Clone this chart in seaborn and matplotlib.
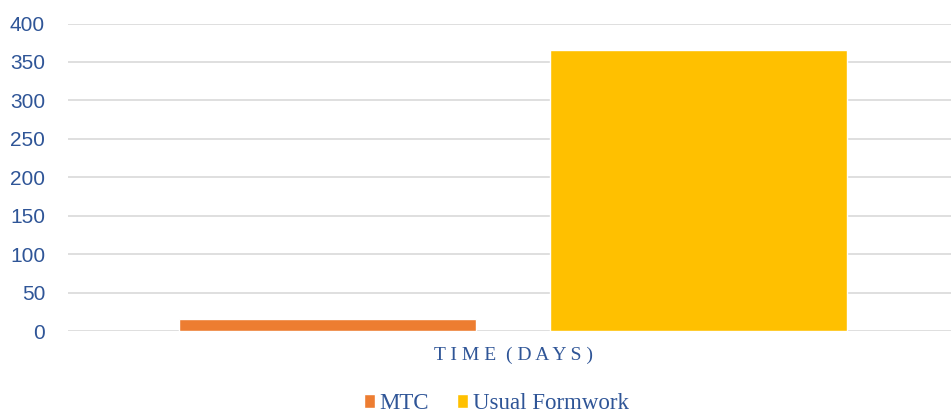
import matplotlib
matplotlib.use("Agg")
import matplotlib.pyplot as plt
import seaborn as sns
import pandas as pd

categories = ["T I M E  ( D A Y S )"]
series = ["MTC", "Usual Formwork"]
values_mtc = [15]
values_usual = [365]
yticks = [0, 50, 100, 150, 200, 250, 300, 350, 400]

colors = ["#ED7D31", "#FFC000"]
text_blue = "#2F5597"

df = pd.DataFrame({
    "category": categories * 2,
    "series": [series[0]] * len(values_mtc) + [series[1]] * len(values_usual),
    "value": values_mtc + values_usual,
})

sns.set_theme(style="white")
plt.rcParams['font.family'] = ['Liberation Sans', 'DejaVu Sans']

fig = plt.figure(figsize=(9.51, 4.16), dpi=100)
ax = fig.add_axes([0.0715, 0.2043, 0.9285, 0.7392])

sns.barplot(data=df, x="category", y="value", hue="series", palette=colors,
            width=0.84, gap=0.2, saturation=1, ax=ax, legend=True)

ax.set_xlim(-0.504, 0.496)
ax.set_ylim(0, 400)
ax.set_yticks(yticks)
ax.set_yticklabels([str(v) for v in yticks], color=text_blue, fontsize=15)
ax.tick_params(axis='y', length=0, pad=16.5)
ax.tick_params(axis='x', length=0, pad=11)
ax.yaxis.grid(True, color="#D9D9D9", linewidth=1.2)
ax.set_axisbelow(True)
for s in ax.spines.values():
    s.set_visible(False)
ax.set_xlabel("")
ax.set_ylabel("")
for lbl in ax.get_xticklabels():
    lbl.set_fontfamily("Liberation Serif")
    lbl.set_fontsize(14)
    lbl.set_color(text_blue)

leg = ax.legend(loc="lower center", bbox_to_anchor=(0.485, -0.315), ncol=2, frameon=False,
                prop={"family": "Liberation Serif", "size": 16.5},
                handlelength=0.5, handleheight=0.5, handletextpad=0.2, columnspacing=1.2,
                borderpad=0.1)
for t in leg.get_texts():
    t.set_color(text_blue)

fig.savefig("out.png", dpi=100)
